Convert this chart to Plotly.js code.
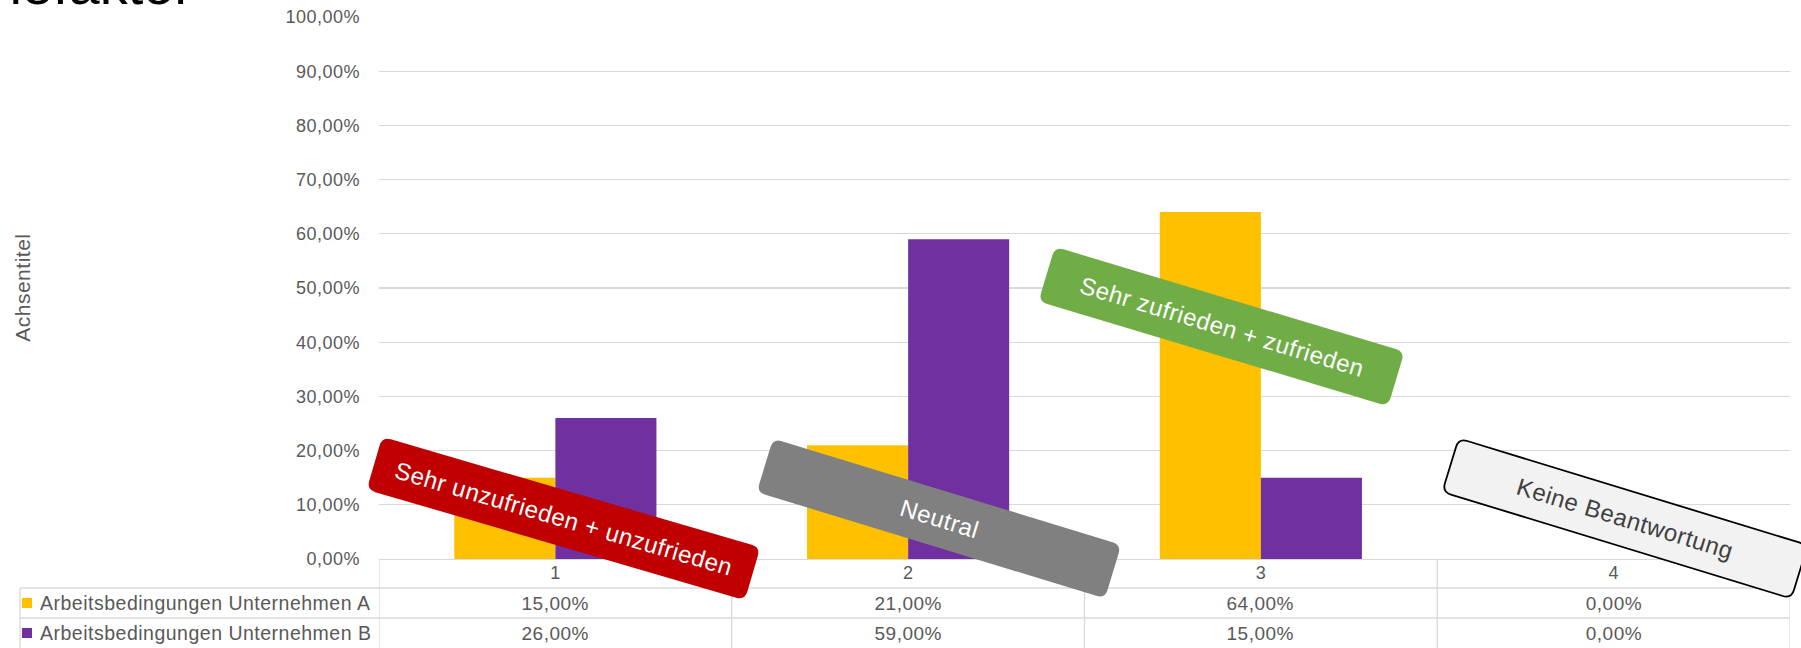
<!DOCTYPE html>
<html><head><meta charset="utf-8">
<script src="https://cdn.plot.ly/plotly-3.0.1.min.js"></script>
<style>
html,body{margin:0;padding:0;background:#fff;overflow:hidden;}
#chart{width:1801px;height:648px;}
#chart .xtick text, #chart .ytick text, #chart .annotation-text{letter-spacing:0.5px;}
</style></head><body><div id="chart"></div>
<script>
// ---- data ----
const categories = ['1', '2', '3', '4'];
const seriesNames = ['Arbeitsbedingungen Unternehmen A', 'Arbeitsbedingungen Unternehmen B'];
const valuesA = [0.15, 0.21, 0.64, 0.00];
const valuesB = [0.26, 0.59, 0.15, 0.00];
const yTickValues = [0, 0.1, 0.2, 0.3, 0.4, 0.5, 0.6, 0.7, 0.8, 0.9, 1.0];
const chartTitle = 'Hygienefaktor';
const yAxisTitle = 'Achsentitel';
const boxLabels = ['Sehr unzufrieden + unzufrieden', 'Neutral', 'Sehr zufrieden + zufrieden', 'Keine Beantwortung'];

// ---- styling / geometry ----
const seriesColors = ['#FFC000', '#7030A0'];
const W = 1801, H = 648, ML = 379, MR = 11, MT = 17, MB = 89;
const PW = W - ML - MR, PH = H - MT - MB;
const fx = px => (px - ML) / PW;
const fy = py => (H - MB - py) / PH;
const FONT = 'Liberation Sans, Arial, sans-serif';
const GREY_TXT = '#595959';
const LINE = '#D9D9D9';

const fmtPct = v => (v * 100).toFixed(2).replace('.', ',') + '%';

const boxStyles = [
  {cx: 563.5, cy: 518.5, w: 394, h: 55, ang: 16.3, fill: '#C00000', line: null, txt: '#FFFFFF'},
  {cx: 939,   cy: 518.5, w: 364, h: 56, ang: 17.0, fill: '#808080', line: null, txt: '#FFFFFF'},
  {cx: 1221.5,cy: 326.5, w: 365, h: 57, ang: 16.7, fill: '#70AD47', line: null, txt: '#FFFFFF'},
  {cx: 1625,  cy: 518.5, w: 365, h: 56, ang: 17.0, fill: '#F2F2F2', line: '#000000', txt: '#404040'}
];

function roundedRotatedPath(w, h, r, angDeg) {
  const a = angDeg * Math.PI / 180, c = Math.cos(a), s = Math.sin(a);
  const t = (x, y) => { const X = x * c - y * s, Y = x * s + y * c; return X.toFixed(2) + ',' + (-Y).toFixed(2); };
  const hw = w / 2, hh = h / 2;
  return 'M' + t(-hw + r, -hh) +
    ' L' + t(hw - r, -hh) + ' Q' + t(hw, -hh) + ' ' + t(hw, -hh + r) +
    ' L' + t(hw, hh - r) + ' Q' + t(hw, hh) + ' ' + t(hw - r, hh) +
    ' L' + t(-hw + r, hh) + ' Q' + t(-hw, hh) + ' ' + t(-hw, hh - r) +
    ' L' + t(-hw, -hh + r) + ' Q' + t(-hw, -hh) + ' ' + t(-hw + r, -hh) + ' Z';
}

const traces = [
  {type: 'bar', x: categories, y: valuesA, name: seriesNames[0], marker: {color: seriesColors[0]}, hoverinfo: 'none'},
  {type: 'bar', x: categories, y: valuesB, name: seriesNames[1], marker: {color: seriesColors[1]}, hoverinfo: 'none'}
];

const shapes = [];
const annotations = [];
const seriesValues = [valuesA, valuesB];
const rowCenters = [603, 633];

// table lines
[588, 618].forEach(py => shapes.push({type: 'line', xref: 'paper', yref: 'paper', x0: fx(20), x1: 1, y0: fy(py), y1: fy(py), line: {color: LINE, width: 1.3}}));
shapes.push({type: 'line', xref: 'paper', yref: 'paper', x0: fx(20), x1: fx(20), y0: fy(588), y1: fy(649), line: {color: LINE, width: 1.3}});
for (let k = 0; k <= categories.length; k++) {
  shapes.push({type: 'line', xref: 'x', yref: 'paper', x0: k - 0.5, x1: k - 0.5, y0: 0, y1: fy(649), line: {color: LINE, width: 1.3}});
}

// table rows
seriesNames.forEach((nm, i) => {
  const yc = rowCenters[i];
  shapes.push({type: 'rect', xref: 'paper', yref: 'paper', x0: fx(22), x1: fx(32), y0: fy(yc + 5), y1: fy(yc - 5), fillcolor: seriesColors[i], line: {width: 0}});
  annotations.push({xref: 'paper', yref: 'paper', x: fx(46), y: fy(yc), xanchor: 'left', yanchor: 'middle', text: nm, showarrow: false, font: {family: FONT, size: 19.5, color: GREY_TXT}});
  seriesValues[i].forEach((v, j) => {
    annotations.push({xref: 'x', yref: 'paper', x: j, y: fy(yc), xanchor: 'center', yanchor: 'middle', text: fmtPct(v), showarrow: false, font: {family: FONT, size: 19, color: GREY_TXT}});
  });
});

// y axis title
annotations.push({xref: 'paper', yref: 'paper', x: fx(22), y: fy(288), xanchor: 'center', yanchor: 'middle', textangle: -90, text: yAxisTitle, showarrow: false, font: {family: FONT, size: 21, color: GREY_TXT}});

// rotated label boxes
boxLabels.forEach((lbl, i) => {
  const b = boxStyles[i];
  shapes.push({type: 'path', xref: 'paper', yref: 'paper', xsizemode: 'pixel', ysizemode: 'pixel', xanchor: fx(b.cx), yanchor: fy(b.cy),
    path: roundedRotatedPath(b.w, b.h, 9, b.ang), fillcolor: b.fill, line: b.line ? {color: b.line, width: 1.8} : {width: 0}});
  annotations.push({xref: 'paper', yref: 'paper', x: fx(b.cx), y: fy(b.cy), xanchor: 'center', yanchor: 'middle', textangle: b.ang, text: lbl, showarrow: false, font: {family: FONT, size: 24, color: b.txt}});
});

const layout = {
  width: W, height: H,
  margin: {l: ML, r: MR, t: MT, b: MB, pad: 0},
  paper_bgcolor: '#FFFFFF', plot_bgcolor: '#FFFFFF',
  separators: ',.',
  font: {family: FONT, size: 18, color: GREY_TXT},
  title: {text: chartTitle, xref: 'container', yref: 'container', x: 193 / W, xanchor: 'right', y: 1 - 4 / H, yanchor: 'bottom', font: {family: FONT, size: 56, color: '#000000'}},
  showlegend: false,
  barmode: 'group', bargap: 0.427, bargroupgap: 0,
  xaxis: {type: 'category', categoryorder: 'array', categoryarray: categories, range: [-0.5, categories.length - 0.5], autorange: false, showgrid: false, zeroline: false, showline: true, linecolor: LINE, linewidth: 1.3, ticks: '', ticklabelstandoff: -3, tickfont: {family: FONT, size: 18, color: GREY_TXT}, fixedrange: true},
  yaxis: {range: [0, 1], tickvals: yTickValues, tickformat: '.2%', showgrid: true, gridcolor: LINE, gridwidth: 1.3, zeroline: false, showline: false, ticks: '', ticklabelstandoff: 18, tickfont: {family: FONT, size: 18, color: GREY_TXT}, fixedrange: true},
  shapes: shapes,
  annotations: annotations
};

Plotly.newPlot('chart', traces, layout, {displayModeBar: false, staticPlot: true});
</script></body></html>
